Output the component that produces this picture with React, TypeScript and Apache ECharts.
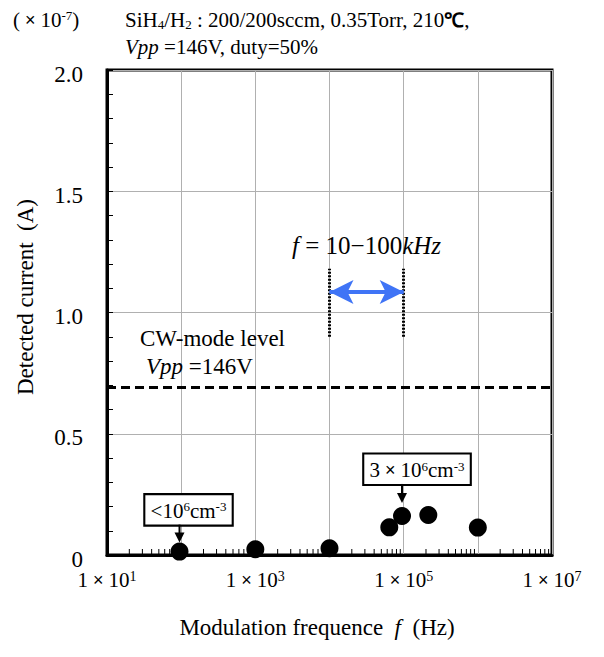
import React, { useEffect, useRef } from 'react';
import * as echarts from 'echarts';

const FONT = 'Liberation Serif';
const SANS = 'Liberation Sans';
const BASE = 20;
const serif = (size: number, style = '') => `${style} ${size}px "Liberation Serif"`.trim();
const sans = (size: number, style = '') => `${style} ${size}px "Liberation Sans"`.trim();

// Data (frequency in Hz, detected current in units of 1e-7 A)
const frequencyHz = [95, 1000, 10000, 64000, 95000, 215000, 1000000];
const currentA = [0.014, 0.024, 0.028, 0.114, 0.161, 0.165, 0.113];
const cwModeLevel = 0.69;
const modRangeHz = [1e4, 1e5];
const modRangeBarY = [0.9, 1.18];
const modRangeArrowY = 1.085;
const xExponentRange = [1, 7];
const xLabelExponents = [1, 3, 5, 7];
const yTickLabels = ['0', '0.5', '1.0', '1.5', '2.0'];
const minorMultipliers = [2, 3, 4, 5, 6, 7, 8, 9];

export default function App() {
  const ref = useRef<HTMLDivElement>(null);

  useEffect(() => {
    const chart = echarts.init(ref.current!, null, { renderer: 'svg' });
    const points = frequencyHz.map((f, i) => [Math.log10(f), currentA[i]]);
    const minorTicks: number[][] = [];
    for (let k = xExponentRange[0]; k < xExponentRange[1]; k++) {
      for (const m of minorMultipliers) minorTicks.push([Math.log10(m * Math.pow(10, k)), 0]);
    }
    const lx = Math.log10(modRangeHz[0]);
    const hx = Math.log10(modRangeHz[1]);
    const dotted = { color: '#000', width: 3, type: [2, 1.5] as any };

    chart.setOption({
      animation: false,
      textStyle: { fontFamily: FONT },
      grid: {
        left: 107, right: 52, top: 70, bottom: 102,
        show: true, borderColor: '#000', borderWidth: 3, backgroundColor: 'transparent',
      },
      xAxis: {
        type: 'value', min: xExponentRange[0], max: xExponentRange[1], interval: 1,
        axisLine: { show: true, lineStyle: { color: '#000', width: 3 } },
        axisTick: { show: false },
        splitLine: { show: true, lineStyle: { color: '#b0b0b0', width: 1 } },
        axisLabel: {
          margin: 14, color: '#000', fontSize: 21, fontFamily: FONT,
          formatter: (v: number) => (xLabelExponents.includes(v) ? `{n|1}{x| × }{n|10}{s|${v}}` : ''),
          rich: {
            n: { fontFamily: FONT, fontSize: 21, color: '#000' },
            x: { fontFamily: SANS, fontSize: 18, color: '#000' },
            s: { fontFamily: FONT, fontSize: 14, color: '#000', verticalAlign: 'top' },
          },
        },
      },
      yAxis: {
        type: 'value', min: 0, max: 2, interval: 0.5,
        axisLine: { show: true, lineStyle: { color: '#000', width: 3 } },
        axisTick: { show: true, inside: true, length: 6, lineStyle: { color: '#000', width: 1 } },
        minorTick: { show: true, splitNumber: 5, length: 6, lineStyle: { color: '#000', width: 1 } },
        splitLine: { show: true, lineStyle: { color: '#b0b0b0', width: 1 } },
        axisLabel: { show: false },
      },
      series: [
        {
          type: 'scatter',
          data: points,
          symbolSize: 18,
          itemStyle: { color: '#000', opacity: 1 },
          z: 5,
          emphasis: { disabled: true },
          markLine: {
            silent: true,
            symbol: 'none',
            label: { show: false },
            emphasis: { disabled: true },
            data: [
              { yAxis: cwModeLevel, lineStyle: { color: '#000', width: 3, type: [9, 5] } },
              [{ coord: [lx, modRangeBarY[0]], lineStyle: dotted }, { coord: [lx, modRangeBarY[1]] }],
              [{ coord: [hx, modRangeBarY[0]], lineStyle: dotted }, { coord: [hx, modRangeBarY[1]] }],
              [
                { coord: [lx, modRangeArrowY], symbol: 'arrow', symbolSize: [18, 24], lineStyle: { color: '#3f74f6', width: 4, type: 'solid' } },
                { coord: [hx, modRangeArrowY], symbol: 'arrow', symbolSize: [18, 24] },
              ],
            ],
          },
        },
        {
          type: 'custom',
          data: minorTicks,
          silent: true,
          z: 10,
          clip: false,
          renderItem: (_p: any, api: any) => {
            const p = api.coord([api.value(0), api.value(1)]);
            return {
              type: 'line',
              shape: { x1: p[0], y1: p[1] - 1, x2: p[0], y2: p[1] - 6 },
              style: { stroke: '#000', lineWidth: 1 },
            };
          },
        },
      ],
    });

    const px = (pt: number[]) => chart.convertToPixel({ seriesIndex: 0 }, pt) as number[];
    const p1 = px(points[0]);
    const p5 = px(points[4]);

    const makeRich = () => ({
      s: { font: serif(13 * BASE / 21), fill: '#000', verticalAlign: 'top' },
      b: { font: serif(13 * BASE / 21), fill: '#000', verticalAlign: 'bottom' },
      m: { font: sans(18 * BASE / 21), fill: '#000' },
      c: { font: sans(20 * BASE / 21, 'bold'), fill: '#000' },
      i: { font: serif(BASE, 'italic'), fill: '#000' },
    });
    const txt = (x: number, y: number, text: string, size: number, extra: any = {}, rotation = 0) => ({
      type: 'text', x, y, z: 20, silent: true, rotation,
      scaleX: size / BASE, scaleY: size / BASE,
      style: {
        text, fill: '#000', font: serif(BASE), textAlign: 'left', textVerticalAlign: 'middle',
        rich: makeRich(), ...extra,
      },
    });

    const arrow = (x: number, top: number, tip: number) => [
      { type: 'line', z: 20, silent: true, shape: { x1: x, y1: top, x2: x, y2: tip - 8 }, style: { stroke: '#000', lineWidth: 2 } },
      { type: 'polygon', z: 20, silent: true, shape: { points: [[x - 5, tip - 10], [x + 5, tip - 10], [x, tip]] }, style: { fill: '#000' } },
    ];
    const box1Bottom = p1[1] - 27;
    const box2Bottom = p5[1] - 32;

    const yLabels = yTickLabels.map((t) => {
      const p = chart.convertToPixel({ gridIndex: 0 }, [xExponentRange[0], parseFloat(t)]) as number[];
      return txt(p[0] - 24, p[1] + 4, t, 23, { textAlign: 'right' });
    });

    chart.setOption({
      graphic: [
        ...yLabels,
        txt(13, 20, '({m| × }10{s|-7})', 21),
        txt(125, 20, 'SiH{b|4}/H{b|2} : 200/200sccm, 0.35Torr, 210{c|℃},', 21),
        txt(125, 47, '{i|Vpp} =146V, duty=50%', 21),
        txt(140, 338, 'CW-mode level', 23),
        txt(146, 366, '{i|Vpp} =146V', 23),
        txt(292, 245, '{i|f} = 10−100{i|kHz}', 25),
        txt(317, 627, 'Modulation frequence  {i|f}  (Hz)', 23, { textAlign: 'center' }),
        txt(25, 297, 'Detected current  (A)', 23, { textAlign: 'center' }, Math.PI / 2),
        txt(p1[0] + 9, box1Bottom, '<10{s|6}cm{s|-3}', 21, {
          textAlign: 'center', textVerticalAlign: 'bottom',
          backgroundColor: '#fff', borderColor: '#000', borderWidth: 2, padding: [5, 5, 3, 5],
        }),
        ...arrow(p1[0], box1Bottom, p1[1] - 9),
        txt(p5[0] + 15, box2Bottom, '3{m| × }10{s|6}cm{s|-3}', 21, {
          textAlign: 'center', textVerticalAlign: 'bottom',
          backgroundColor: '#fff', borderColor: '#000', borderWidth: 2, padding: [5, 5, 3, 5],
        }),
        ...arrow(p5[0], box2Bottom, p5[1] - 13),
      ],
    });

    return () => chart.dispose();
  }, []);

  return <div ref={ref} style={{ position: 'absolute', left: 0, top: 0, width: 604, height: 657 }} />;
}
